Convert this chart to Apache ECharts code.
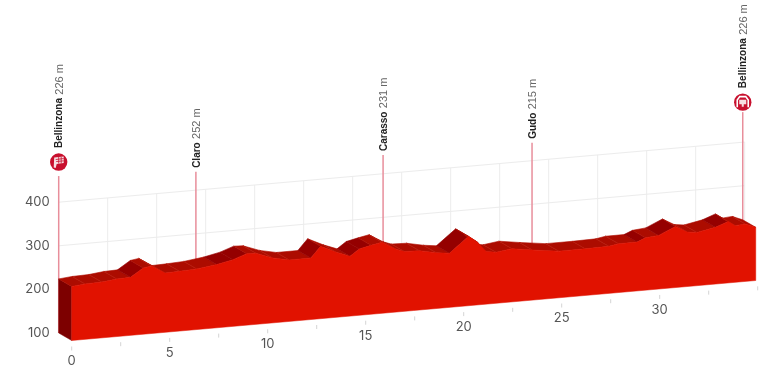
<!DOCTYPE html>
<html><head><meta charset="utf-8">
<style>html,body{margin:0;padding:0;background:#fff}#c{width:768px;height:373px}</style>
<script src="https://cdn.jsdelivr.net/npm/echarts@6/dist/echarts.min.js"></script>
</head><body><div id="c"></div>
<script>
// Data
const kms = [0,0.68,1.53,2.3,3.0,3.65,4.08,4.76,5.5,6.38,7.4,8.23,8.93,9.4,10.25,11.1,12.2,12.7,13.5,14.2,14.67,15.27,15.83,16.55,16.97,17.74,18.6,19.27,20.25,20.7,21.14,21.65,22.46,23.5,24.85,26.2,27.4,27.9,28.84,29.27,29.95,30.8,31.4,31.9,32.84,33.5,33.85,34.36,34.9];
const elevations = [224,227,228,232,233,252,255,236,237,239,245,253,264,263,249,241,241,266,249,237,252,258,263,244,237,236,228,224,259,244,221,217,222,215,207,207,208,212,212,220,223,240,225,222,230,241,230,232,222];
const xTickKm = [0,2.5,5,7.5,10,12.5,15,17.5,20,22.5,25,27.5,30,32.5,35];
const xLabelKm = [0,5,10,15,20,25,30];
const yTicks = [100,200,300,400];
const placeNames = ['Bellinzona','Claro','Carasso','Gudo','Bellinzona'];
const placeKm = [0,7.0,16.55,24.15,34.9];
const placeAlt = [226,252,231,215,226];

// Style / layout
const SHEAR = 0.0877, DX = 13, DY = 7.5, LEFT = 58.7;
const stemTop = [460,442,443,441,469];
const badgeGap = [14,0,0,0,10];
const C = {front:'#e11200', side:'#7d0000', dark:'#950000', mid:'#ac0c00', stripe:'#bb2212', grid:'#ececec', stem:'#e88e9b', badge:'#c8102e', ink:'#555'};

function P(api, km, e, d){
  const c = api.coord([km,e]);
  return [c[0]+d*DX, c[1]+d*DY-SHEAR*(c[0]-LEFT)];
}
function layer(build, z){
  return {type:'custom', coordinateSystem:'cartesian2d', data:[[0,100]], silent:true, animation:false, clip:false, z:z,
    renderItem:(p,api)=>({type:'group', children:build(api)})};
}
const poly = (pts,fill,lw,stroke)=>({type:'polygon',shape:{points:pts},style:{fill:fill,stroke:stroke||fill,lineWidth:lw||0}});
const line = (a,b,col,w)=>({type:'line',shape:{x1:a[0],y1:a[1],x2:b[0],y2:b[1]},style:{stroke:col,lineWidth:w}});

const gridLayer = layer(api=>{
  const out=[];
  xTickKm.slice(1).forEach(k=>{ out.push(line(P(api,k,100,0),P(api,k,400,0),C.grid,1)); });
  [300,400].forEach(e=>{ out.push(line(P(api,0,e,0),P(api,35,e,0),C.grid,1)); });
  return out;
},1);

const stemLayer = layer(api=>{
  const out=[];
  placeKm.forEach((k,i)=>{
    const top=P(api,k,stemTop[i],0);
    out.push(line(top,P(api,k,100,0),C.stem,1.5));
    const badge = badgeGap[i]>0;
    const cx=top[0], cy=top[1]-badgeGap[i];
    const startY = badge ? cy-14 : top[1]-4;
    out.push({type:'text',x:cx+1,y:startY,rotation:Math.PI/2,style:{
      text:'{b|'+placeNames[i]+'} {g|'+placeAlt[i]+' m}',align:'left',verticalAlign:'middle',
      rich:{b:{font:'bold 10px "Liberation Sans"',fill:'#222'},g:{font:'11px "Liberation Sans"',fill:'#666'}}}});
    if(badge){
      out.push({type:'circle',shape:{cx:cx,cy:cy,r:8.7},style:{fill:C.badge}});
      if(i===0){
        out.push(poly([[cx-4.5,cy-4.5],[cx+5,cy-5.5],[cx+5,cy+1],[cx-2,cy+2],[cx-3,cy+6],[cx-5,cy+5.5]],'#f6dfe2'));
        out.push(line([cx-3,cy-2.5],[cx+5,cy-3.5],C.badge,0.8));
        out.push(line([cx-2.5,cy-0.5],[cx+5,cy-1.2],C.badge,0.8));
        out.push(line([cx,cy-5],[cx,cy+1.5],C.badge,0.8));
        out.push(line([cx+2.5,cy-5],[cx+2.5,cy+1.5],C.badge,0.8));
      } else {
        out.push({type:'polyline',shape:{points:[[cx-5.5,cy+5],[cx-5.5,cy-2],[cx-3,cy-5.5],[cx+3,cy-5.5],[cx+5.5,cy-2],[cx+5.5,cy+5]]},style:{stroke:'#fff',fill:null,lineWidth:1.6}});
        out.push(poly([[cx-3.5,cy-2.5],[cx+3.5,cy-2.5],[cx+3.5,cy+2],[cx+1,cy+2],[cx+1,cy+4.5],[cx-1,cy+4.5],[cx-1,cy+2],[cx-3.5,cy+2]],'#f6dfe2'));
      }
    }
  });
  return out;
},2);

const bodyLayer = layer(api=>{
  const out=[];
  const n=kms.length;
  // left face
  out.push(poly([P(api,0,elevations[0],0),P(api,0,elevations[0],1),P(api,0,100,1),P(api,0,100,0)],C.side,0.5));
  // top face: steep climbs are in shadow
  const steep = i => (elevations[i+1]-elevations[i])/(kms[i+1]-kms[i]) > 9;
  for(let i=0;i<n-1;i++){
    out.push(poly([P(api,kms[i],elevations[i],0),P(api,kms[i+1],elevations[i+1],0),P(api,kms[i+1],elevations[i+1],1),P(api,kms[i],elevations[i],1)],steep(i)?C.dark:C.mid,0.6));
  }
  for(let i=1;i<n-1;i++){
    if(!steep(i) && !steep(i-1)) out.push(line(P(api,kms[i],elevations[i],0),P(api,kms[i],elevations[i],1),C.stripe,0.7));
  }
  // front face
  const pts=[P(api,0,100,1)];
  for(let i=0;i<n;i++) pts.push(P(api,kms[i],elevations[i],1));
  pts.push(P(api,kms[n-1],100,1));
  out.push(poly(pts,C.front,0.5));
  return out;
},3);

const axisLayer = layer(api=>{
  const out=[];
  xTickKm.forEach(k=>{
    const b=P(api,k,100,1);
    out.push(line([b[0],b[1]+6],[b[0],b[1]+10],'#d4d4d4',1));
  });
  xLabelKm.forEach(k=>{
    const b=P(api,k,100,1);
    out.push({type:'text',x:b[0],y:b[1]+21,style:{text:String(k),align:'center',verticalAlign:'middle',font:'13px Inter',fill:C.ink}});
  });
  return out;
},4);

const chart = echarts.init(document.getElementById('c'),null,{renderer:'canvas'});
chart.setOption({
  animation:false, backgroundColor:'#fff',
  grid:{left:LEFT,top:202.2,width:686,height:130.8},
  xAxis:{type:'value',min:0,max:35,show:false},
  yAxis:{type:'value',min:100,max:400,interval:100,axisLine:{show:false},axisTick:{show:false},splitLine:{show:false},
    axisLabel:{margin:9,fontFamily:'Inter',fontSize:13,color:C.ink,customValues:yTicks}},
  series:[gridLayer,stemLayer,bodyLayer,axisLayer]
});
</script></body></html>
